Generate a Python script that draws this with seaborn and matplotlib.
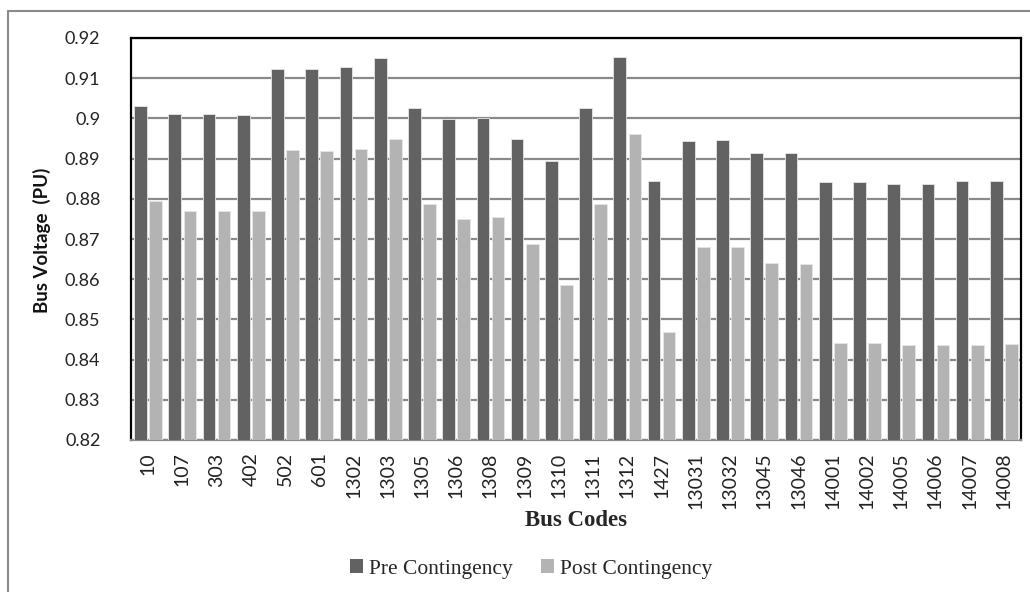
import matplotlib
matplotlib.use("Agg")
import matplotlib.pyplot as plt
from matplotlib.patches import Rectangle
from matplotlib.lines import Line2D
import seaborn as sns
import pandas as pd

bus_codes = ["10", "107", "303", "402", "502", "601", "1302", "1303", "1305", "1306",
             "1308", "1309", "1310", "1311", "1312", "1427", "13031", "13032", "13045",
             "13046", "14001", "14002", "14005", "14006", "14007", "14008"]
pre_contingency = [0.9030, 0.9011, 0.9011, 0.9008, 0.9123, 0.9123, 0.9127, 0.9150,
                   0.9025, 0.8998, 0.9000, 0.8949, 0.8894, 0.9025, 0.9152, 0.8845,
                   0.8944, 0.8946, 0.8913, 0.8913, 0.8841, 0.8841, 0.8838, 0.8838,
                   0.8845, 0.8845]
post_contingency = [0.8794, 0.8770, 0.8770, 0.8770, 0.8921, 0.8918, 0.8923, 0.8950,
                    0.8788, 0.8749, 0.8754, 0.8687, 0.8585, 0.8788, 0.8962, 0.8468,
                    0.8681, 0.8681, 0.8640, 0.8637, 0.8442, 0.8442, 0.8437, 0.8437,
                    0.8437, 0.8439]
series_names = ["Pre Contingency", "Post Contingency"]
y_ticks = [0.82, 0.83, 0.84, 0.85, 0.86, 0.87, 0.88, 0.89, 0.90, 0.91, 0.92]
y_tick_labels = ["0.82", "0.83", "0.84", "0.85", "0.86", "0.87", "0.88", "0.89", "0.9", "0.91", "0.92"]

df = pd.DataFrame({
    "Bus": bus_codes * 2,
    "Voltage": pre_contingency + post_contingency,
    "Series": [series_names[0]] * len(bus_codes) + [series_names[1]] * len(bus_codes),
})

sns.set_style("white")
W, H = 1030, 592
fig = plt.figure(figsize=(W / 100, H / 100), dpi=100)
ax = fig.add_axes([131 / W, 1 - 440 / H, (1021 - 131) / W, (440 - 38) / H])

colors = ["#626262", "#b3b3b3"]
sns.barplot(data=df, x="Bus", y="Voltage", hue="Series", order=bus_codes,
            hue_order=series_names, palette=colors, width=0.88, gap=0.16,
            edgecolor="#e6e6e6", linewidth=0.6, ax=ax, legend=False, zorder=3)

ax.set_ylim(0.82, 0.92)
ax.set_xlim(-0.5, len(bus_codes) - 0.5)
ax.set_yticks(y_ticks)
ax.set_yticklabels(y_tick_labels)
ax.yaxis.grid(True, color="#8a8a8a", linewidth=1.6, zorder=0)
ax.set_axisbelow(True)
ax.tick_params(axis="y", length=0, pad=22, labelsize=13)
ax.tick_params(axis="x", length=0, pad=9, labelsize=14, rotation=90)
for lab in ax.get_yticklabels() + ax.get_xticklabels():
    lab.set_family("Lato")
    lab.set_color("#222222")

for side in ["top", "left", "right"]:
    ax.spines[side].set_color("black")
    ax.spines[side].set_linewidth(1.6)
ax.spines["bottom"].set_color("#8a8a8a")
ax.spines["bottom"].set_linewidth(1.6)

ax.set_xlabel("")
ax.set_ylabel("")
fig.text(576 / W, 1 - 521 / H, "Bus Codes", ha="center", va="center",
         family="Liberation Serif", fontweight="bold", fontsize=16.5)
fig.text(42 / W, 1 - 240 / H, "Bus Voltage  (PU)", ha="center", va="center",
         rotation=90, family="Lato", fontweight="bold", fontsize=13.5, color="#111111")

handles = [Rectangle((0, 0), 1, 1, facecolor=c, edgecolor="none") for c in colors]
leg = fig.legend(handles, series_names, loc="center", bbox_to_anchor=(531 / W, 1 - 569 / H),
                 ncol=2, frameon=False, prop={"family": "Liberation Serif", "size": 15.5},
                 handlelength=0.6, handleheight=0.6, handletextpad=0.3, columnspacing=1.3)

# outer chart border (top and left edges visible)
fig.add_artist(Line2D([8 / W, 1.0], [1 - 11 / H, 1 - 11 / H], transform=fig.transFigure,
                      color="#8a8a8a", linewidth=1.5))
fig.add_artist(Line2D([8 / W, 8 / W], [0.0, 1 - 11 / H], transform=fig.transFigure,
                      color="#8a8a8a", linewidth=1.5))

fig.savefig("out.png", dpi=100)
